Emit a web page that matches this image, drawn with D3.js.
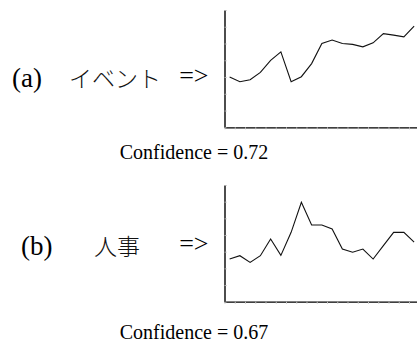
<!DOCTYPE html>
<html>
<head>
<meta charset="utf-8">
<script src="https://cdn.jsdelivr.net/npm/d3@7"></script>
<style>
  html, body { margin: 0; padding: 0; background: #fff; }
  svg { display: block; }
</style>
</head>
<body>
<script>
// ---- data ----
const panelIds = ["a", "b"];
const panelLabels = ["(a)", "(b)"];
const panelWords = ["イベント", "人事"];
const confidences = ["0.72", "0.67"];
const seriesA = [3.0, 2.72, 2.84, 3.28, 4.0, 4.5, 2.72, 3.02, 3.8, 5.0, 5.21, 5.0, 4.95, 4.8, 5.04, 5.59, 5.5, 5.4, 6.04];
const seriesB = [2.56, 2.76, 2.36, 2.76, 3.76, 2.78, 4.16, 5.96, 4.6, 4.6, 4.36, 3.16, 2.97, 3.16, 2.56, 3.36, 4.16, 4.16, 3.57];
const yTickValues = [0, 1, 2, 3, 4, 5, 6, 7];

const W = 417, H = 344;
const svg = d3.select("body").append("svg").attr("width", W).attr("height", H);

const serif = "'Liberation Serif', 'Times New Roman', serif";
const cjk = "'Noto Sans CJK JP', sans-serif";

const panels = [
  { series: seriesA, top: 10, bottom: 127.3, labelY: 86.5, confY: 158.5, labelX: 12, wordX: 69 },
  { series: seriesB, top: 185, bottom: 301.7, labelY: 254.5, confY: 338.5, labelX: 21, wordX: 94 }
];

panels.forEach((p, k) => {
  const n = p.series.length;
  const x = d3.scaleLinear().domain([0, n]).range([224.5, 224.5 + n * 10.25]);
  const y = d3.scaleLinear().domain([0, 7]).range([p.bottom, p.top]);
  const g = svg.append("g");

  // x axis (ticks at category boundaries)
  const xAxis = d3.axisBottom(x).tickValues(d3.range(0, n + 1)).tickSize(2).tickSizeOuter(0).tickFormat("");
  const gx = g.append("g").attr("transform", `translate(0,${p.bottom})`).call(xAxis);
  gx.select(".domain").attr("stroke", "#000").attr("stroke-width", 1.2);
  gx.selectAll(".tick line").attr("stroke", "#bbb").attr("stroke-width", 1);

  // y axis
  const yAxis = d3.axisRight(y).tickValues(yTickValues).tickSize(2).tickSizeOuter(0).tickFormat("");
  const gy = g.append("g").attr("transform", `translate(224.5,0)`).call(yAxis);
  gy.select(".domain").attr("stroke", "#000").attr("stroke-width", 1.4);
  gy.selectAll(".tick line").attr("stroke", "#aaa").attr("stroke-width", 1);

  // line
  const line = d3.line().x((d, i) => x(i + 0.5)).y(d => y(d));
  g.append("path").datum(p.series)
    .attr("d", line)
    .attr("fill", "none")
    .attr("stroke", "#111")
    .attr("stroke-width", 1.1)
    .attr("stroke-linejoin", "miter");

  // labels
  g.append("text").attr("x", p.labelX).attr("y", p.labelY)
    .attr("font-family", serif).attr("font-size", 27).attr("fill", "#000")
    .text(panelLabels[k]);
  g.append("text").attr("x", p.wordX).attr("y", p.labelY)
    .attr("font-family", cjk).attr("font-size", 23).attr("fill", "#111")
    .attr("font-weight", 300)
    .text(panelWords[k]);
  g.append("text").attr("x", 208.5).attr("y", p.labelY - 3)
    .attr("text-anchor", "end")
    .attr("font-family", serif).attr("font-size", 26).attr("fill", "#000")
    .text("=>");
  g.append("text").attr("x", 194).attr("y", p.confY)
    .attr("text-anchor", "middle")
    .attr("font-family", serif).attr("font-size", 20).attr("fill", "#000")
    .text("Confidence = " + confidences[k]);
});
</script>
</body>
</html>
